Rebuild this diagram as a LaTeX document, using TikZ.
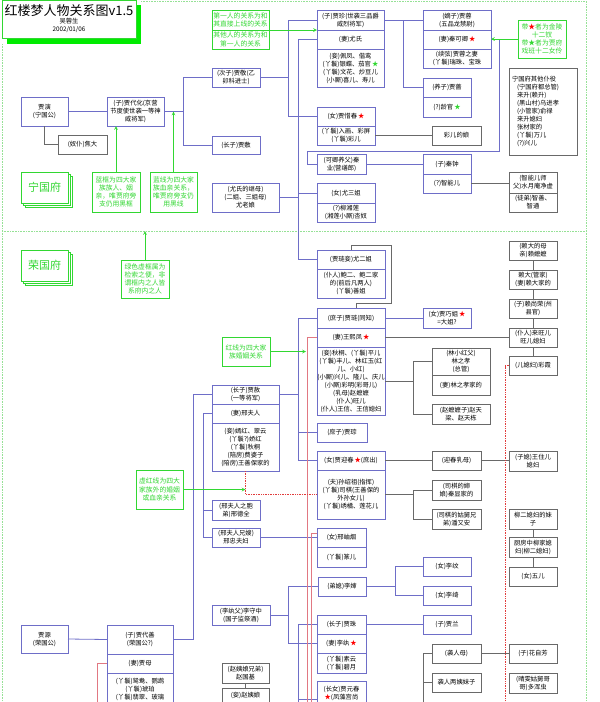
\documentclass[tikz,border=0pt]{standalone}
\usepackage{fontspec}
\setmainfont{Noto Sans CJK SC}
\usetikzlibrary{positioning, arrows, shadows}

\definecolor{kinblue}{RGB}{110,110,200}
\definecolor{servgray}{RGB}{105,105,105}
\definecolor{notegreen}{RGB}{50,215,50}
\definecolor{kinred}{RGB}{225,120,130}
\definecolor{dotred}{RGB}{225,60,60}
\definecolor{edgegreen}{RGB}{150,225,150}
\definecolor{titlegreen}{RGB}{0,235,0}

\newcommand{\rstar}{\textcolor{red}{★}}
\newcommand{\gstar}{\textcolor{notegreen}{★}}

\tikzset{
	>=stealth,
	kin/.style={draw=kinblue, line width=0.8pt, fill=white, align=center,
		inner xsep=0pt, inner ysep=1pt, outer sep=0pt, anchor=north west},
	serv/.style={kin, draw=servgray},
	note/.style={kin, draw=notegreen, text=notegreen, font=\fontsize{6.8}{8.2}\selectfont},
	dims/.style 2 args={text width=#1pt, minimum height=#2pt},
	house/.style={draw=notegreen, line width=0.8pt, fill=white, text=notegreen,
		font=\fontsize{11}{12}\selectfont, minimum width=47pt, minimum height=31pt,
		outer sep=0pt, anchor=north west,
		double copy shadow={shadow xshift=2pt, shadow yshift=-2pt, draw=notegreen, fill=white}},
	kline/.style={draw=kinblue, line width=0.8pt},
	sline/.style={draw=servgray, line width=0.8pt},
	rline/.style={draw=kinred, line width=0.8pt},
	rdot/.style={draw=dotred, densely dotted, line width=0.7pt},
	gline/.style={draw=notegreen, line width=0.7pt, ->},
	frame/.style={draw=edgegreen, densely dotted, line width=0.6pt},
}

\begin{document}
\begin{tikzpicture}[x=1pt, y=-1pt, font=\fontsize{6.3}{8}\selectfont]
	\useasboundingbox (0,0) rectangle (600,702);
	\clip (0,0) rectangle (600,702);

	% frame of the two houses
	\draw[frame] (141,1) -- (586,1) -- (586,702);
	\draw[frame] (2,44) -- (2,702);
	\draw[frame] (2,231) -- (586,231);
	\coordinate (split) at (0,231);

	% title
	\fill[titlegreen] (7,5) rectangle (141,44);
	\node[kin, draw=notegreen, dims={134}{38}] (title) at (2,0)
		{{\fontsize{13}{14}\selectfont 红楼梦人物关系图v1.5}\\吴蓉生\\2002/01/06};

	% Ningguo house
	\node[house] (ning) at (21,172) {宁国府};
	\node[kin, dims={47}{29}] (yan) at (21,97) {贾演\\(宁国公)};
	\node[serv, dims={49}{19}] (jiaoda) at (58,135) {(奴仆)焦大};
	\node[kin, dims={57}{29}] (daihua) at (107,97) {(子)贾代化(京营\\节度使世袭一等神\\威将军)};
	\node[kin, dims={48}{19}] (jing) at (212,68) {(次子)贾敬(乙\\卯科进士)};
	\node[kin, dims={48}{18}] (fu) at (212,136) {(长子)贾敷};
	\node[note, dims={57}{20}] (howto1) at (212,10) {第一人的关系为和\\其直接上线的关系};
	\node[note, dims={57}{19}, below=0pt of howto1] (howto2) {其他人的关系为和\\第一人的关系};

	\node[kin, dims={67}{20}] (zhen) at (317,10) {(子)贾珍(世袭三品爵\\威烈将军)};
	\node[kin, dims={67}{19}, below=0pt of zhen] (youshi) {(妻)尤氏};
	\node[kin, dims={67}{38}, below=0pt of youshi] (zhenqie)
		{(妾)佩凤、偕鸾\\(丫鬟)银蝶、茄官\,\gstar\\(丫鬟)文花、炒豆儿\\(小厮)喜儿、寿儿};
	\node[kin, dims={68}{20}] (rong) at (423,10) {(嫡子)贾蓉\\(五品龙禁尉)};
	\node[kin, dims={68}{19}, below=0pt of rong] (keqing) {(妻)秦可卿\,\rstar};
	\node[kin, dims={68}{19}, below=0pt of keqing] (rongqi) {(续弦)贾蓉之妻\\(丫鬟)瑞珠、宝珠};
	\node[kin, dims={48}{19}] (qiang) at (423,78) {(养子)贾蔷};
	\node[kin, dims={48}{20}, below=0pt of qiang] (lingguan) {(?)龄官\,\gstar};
	\node[note, dims={48}{38}] (stars) at (518,20) {带\rstar 者为金陵\\十二钗\\带\gstar 者为贾府\\戏班十二女伶};
	\node[serv, dims={68}{87}, align=left] (ningserv) at (509,68)
		{\hspace*{3pt}宁国府其他仆役\\\hspace*{8pt}(宁国府都总管)\\\hspace*{8pt}来升(赖升)\\\hspace*{8pt}(黑山村)乌进孝\\\hspace*{8pt}(小管家)俞禄\\\hspace*{8pt}来升媳妇\\\hspace*{8pt}张材家的\\\hspace*{8pt}(丫鬟)万儿\\\hspace*{8pt}(?)兴儿};

	\node[kin, dims={58}{19}] (xichun) at (317,107) {(女)贾惜春\,\rstar};
	\node[kin, dims={58}{19}, below=0pt of xichun] (xichunyh) {(丫鬟)入画、彩屏\\(丫鬟)彩儿};
	\node[serv, dims={49}{19}] (caiermu) at (432,126) {彩儿的娘};
	\node[kin, dims={49}{20}] (qinye) at (317,154) {(可卿养父)秦\\业(营缮郎)};
	\node[kin, dims={48}{20}] (qinzhong) at (423,154) {(子)秦钟};
	\node[kin, dims={48}{19}, below=0pt of qinzhong] (zhineng) {(?)智能儿};
	\node[serv, dims={48}{21}] (jingxu) at (509,172) {(智能儿师\\父)水月庵净虚};
	\node[serv, dims={48}{19}, below=0pt of jingxu] (zhishan) {(徒弟)智善、\\智通};

	\node[note, dims={48}{40}] (bluebox) at (92,172) {蓝框为四大家\\族族人、姻\\亲，唯贾府旁\\支仍用黑框};
	\node[note, dims={47}{40}] (blueline) at (150,172) {蓝线为四大家\\族血亲关系，\\唯贾府旁支仍\\用黑线};
	\node[kin, dims={67}{29}] (youlao) at (212,183) {(尤氏的继母)\\(二姐、三姐母)\\尤老娘};
	\node[kin, dims={58}{20}] (yousan) at (317,183) {(女)尤三姐};
	\node[kin, dims={58}{19}, below=0pt of yousan] (xianglian) {(?)柳湘莲\\(湘莲小厮)杏奴};

	% Rongguo house
	\node[house] (rongfu) at (21,250) {荣国府};
	\node[note, dims={48}{38}] (greenbox) at (121,260) {绿色虚框属为\\检索之便，非\\谓框内之人皆\\系府内之人};
	\node[kin, dims={68}{19}] (youer) at (317,250) {(贾琏妾)尤二姐};
	\node[kin, dims={68}{29}, below=0pt of youer] (baoer) {(仆人)鲍二、鲍二家\\的(前后凡两人)\\(丫鬟)善姐};

	\node[kin, dims={68}{20}] (lian) at (317,308) {(庶子)贾琏(同知)};
	\node[kin, dims={68}{19}, below=0pt of lian] (fengjie) {(妻)王熙凤\,\rstar};
	\node[kin, dims={68}{68}, below=0pt of fengjie] (lianyh)
		{(妾)秋桐、(丫鬟)平儿\\(丫鬟)丰儿、林红玉(红\\儿、小红)\\(小厮)兴儿、隆儿、庆儿\\(小厮)彩明(彩哥儿)\\(乳母)赵嬷嬷\\(仆人)旺儿\\(仆人)王信、王信媳妇};
	\node[kin, dims={48}{20}] (qiaojie) at (423,308) {(女)贾巧姐\,\rstar\\=大姐?};
	\node[serv, dims={48}{19}] (laimu) at (509,241) {(赖大的母\\亲)赖嬷嬷};
	\node[serv, dims={48}{19}] (laida) at (509,270) {赖大(管家)\\(妻)赖大家的};
	\node[serv, dims={48}{19}] (laishang) at (509,299) {(子)赖尚荣(州\\县官)};
	\node[serv, dims={48}{19}] (laiwang) at (509,328) {(仆人)来旺儿\\旺儿媳妇};
	\node[serv, dims={48}{19}] (caixia) at (509,356) {(儿媳妇)彩霞};
	\node[serv, dims={58}{27}] (linzx) at (432,348) {(林小红父)\\林之孝\\(总管)};
	\node[serv, dims={58}{20}, below=0pt of linzx] (linjia) {(妻)林之孝家的};
	\node[serv, dims={58}{20}] (zhaotl) at (432,404) {(赵嬷嬷子)赵天\\梁、赵天栋};
	\node[note, dims={48}{29}] (redline) at (222,337) {红线为四大家\\族婚姻关系};

	\node[kin, dims={67}{19}] (she) at (212,385) {(长子)贾赦\\(一等将军)};
	\node[kin, dims={67}{19}, below=0pt of she] (xing) {(妻)邢夫人};
	\node[kin, dims={67}{48}, below=0pt of xing] (sheqie)
		{(妾)嫣红、翠云\\(丫鬟?)娇红\\(丫鬟)秋桐\\(陪房)费婆子\\(陪房)王善保家的};
	\node[kin, dims={50}{19}] (cong) at (317,423) {(庶子)贾琮};
	\node[kin, dims={68}{19}] (yingchun) at (317,451) {(女)贾迎春\,\rstar(庶出)};
	\node[kin, dims={68}{49}, below=0pt of yingchun] (siqi)
		{(夫)孙绍祖(指挥)\\(丫鬟)司棋(王善保的\\外孙女儿)\\(丫鬟)绣橘、莲花儿};
	\node[serv, dims={49}{19}] (yingnai) at (432,451) {(迎春乳母)};
	\node[serv, dims={48}{20}] (wangzhu) at (509,451) {(子媳)王住儿\\媳妇};
	\node[serv, dims={49}{20}] (qinxian) at (432,480) {(司棋的婶\\娘)秦显家的};
	\node[serv, dims={49}{20}] (panyouan) at (432,509) {(司棋的姑舅兄\\弟)潘又安};
	\node[serv, dims={48}{20}] (liumei) at (509,509) {柳二媳妇的妹\\子};
	\node[serv, dims={48}{20}] (liujia) at (509,537) {厨房中柳家媳\\妇(柳二媳妇)};
	\node[serv, dims={48}{19}] (wuer) at (509,567) {(女)五儿};
	\node[note, dims={47}{39}] (dotnote) at (136,470) {虚红线为四大\\家族外的婚姻\\或血亲关系};

	\node[kin, dims={48}{20}] (xingdq) at (212,500) {(邢夫人之胞\\弟)邢德全};
	\node[kin, dims={48}{19}] (xingzhong) at (212,528) {(邢夫人兄嫂)\\邢忠夫妇};
	\node[kin, dims={49}{19}] (xiuyan) at (317,528) {(女)邢岫烟};
	\node[kin, dims={49}{20}, below=0pt of xiuyan] (zhuaner) {(丫鬟)篆儿};
	\node[kin, dims={48}{19}] (lishen) at (318,577) {(弟媳)李婶};
	\node[kin, dims={48}{19}] (liwen) at (423,557) {(女)李纹};
	\node[kin, dims={48}{19}] (liqi) at (423,586) {(女)李绮};
	\node[kin, dims={58}{20}] (lishou) at (212,605) {(李纨父)李守中\\(国子监祭酒)};
	\node[kin, dims={49}{19}] (zhu) at (317,615) {(长子)贾珠};
	\node[kin, dims={49}{19}, below=0pt of zhu] (liwan) {(妻)李纨\,\rstar};
	\node[kin, dims={49}{20}, below=0pt of liwan] (zhuyh) {(丫鬟)素云\\(丫鬟)碧月};
	\node[kin, dims={48}{19}] (lan) at (423,615) {(子)贾兰};
	\node[kin, dims={49}{24}] (yuanchun) at (317,681) {(长女)贾元春\\\rstar(凤藻宫尚};
	\node[serv, dims={47}{20}] (guoji) at (222,663) {(赵姨娘兄弟)\\赵国基};
	\node[serv, dims={47}{15}] (yiniang) at (222,688) {(妾)赵姨娘};
	\node[serv, dims={49}{19}] (xirenmu) at (432,644) {(袭人母)};
	\node[serv, dims={48}{19}] (huazifang) at (509,644) {(子)花自芳};
	\node[serv, dims={49}{19}] (xirenmei) at (432,673) {袭人两姨妹子};
	\node[serv, dims={48}{20}] (duohunchong) at (509,673) {(晴雯姑舅哥\\哥)多浑虫};

	\node[kin, dims={47}{28}] (yuan) at (21,625) {贾源\\(荣国公)};
	\node[kin, dims={66}{29}] (daishan) at (107,625) {(子)贾代善\\(荣国公?)};
	\node[kin, dims={66}{19}, below=0pt of daishan] (jiamu) {(妻)贾母};
	\node[kin, dims={66}{32}, below=0pt of jiamu] (jiamuyh) {(丫鬟)鸳鸯、鹦鹉\\(丫鬟)琥珀\\(丫鬟)翡翠、玻璃};

	% forks
	\coordinate (ningfork) at (183,0);
	\coordinate (jingfork) at (288,0);
	\coordinate (youfork) at (298,0);
	\coordinate (zhenfork) at (403,0);
	\coordinate (lianfork) at (413,0);
	\coordinate (xingfork) at (203,0);
	\coordinate (rongfork) at (193,0);
	\coordinate (lifork) at (288,0);
	\coordinate (lishenfork) at (395,0);
	\coordinate (qinturn) at (499,151);
	\coordinate (fengred) at (306,0);
	\coordinate (redend) at (307,702);
	\coordinate (redend2) at (311,702);
	\coordinate (jiamuend) at (97,702);
	\coordinate (caixiaend) at (505,702);
	\coordinate (zhengend) at (298,702);
	\coordinate (xirenend) at (423,702);

	% Ningguo lines
	\draw[kline] (yan.east) -- (daihua.west);
	\draw[sline] (yan.south) |- (jiaoda.west);
	\draw[kline] (daihua.east) -- (daihua.east -| ningfork);
	\draw[kline] (jing.west) -- (jing.west -| ningfork) |- (fu.west);
	\draw[kline] (jing.east) -- (jing.east -| jingfork);
	\draw[kline] (zhen.west) -- (zhen.west -| jingfork) |- (xichun.west);
	\draw[kline] (youshi.west) -- (youshi.west -| youfork) |- (youer.west);
	\draw[kline] (youlao.east) -- (youlao.east -| youfork);
	\draw[kline] (yousan.west) -- (yousan.west -| youfork);
	\draw[kline] (zhen.east) -- (rong.west);
	\draw[kline] (zhen.east -| zhenfork) |- (qiang.west);
	\draw[kline] (qinye.west) -- ++(-10,0) |- (qinturn) |- (keqing.east);
	\draw[kline] (qinye.east) -- (qinzhong.west);
	\draw[sline] (zhineng.east) -- (zhineng.east -| jingxu.west);
	\draw[sline] (xichunyh.east) -- (caiermu.west);
	\draw[sline] (youer.north) -- ++(0,-5) -| (391,303) -| ([xshift=5pt]lian.north);

	% Rongguo lines
	\draw[kline] (yuan.east) -- (daishan.west);
	\draw[kline] (daishan.east) -- (daishan.east -| rongfork) |- (she.west);
	\draw[kline] (she.east) -- (she.east -| youfork);
	\draw[kline] (lian.west) -- (lian.west -| youfork) |- (yingchun.west);
	\draw[kline] (cong.west) -- (cong.west -| youfork);
	\draw[kline] (lian.east) -- (qiaojie.west);
	\draw[sline] (fengjie.east) -- (laiwang.west);
	\draw[sline] (laimu) -- (laida) -- (laishang) -- (laiwang) -- (caixia);
	\draw[sline] (lianyh.east) -- (lianyh.east -| lianfork);
	\draw[sline] (linzx.west) -- (linzx.west -| lianfork) |- (zhaotl.west);
	\draw[sline] (yingchun.east) -- (yingnai.west);
	\draw[sline] (yingnai.east) -- (yingnai.east -| wangzhu.west);
	\draw[sline] (siqi.east) -- (siqi.east -| lianfork);
	\draw[sline] (qinxian.west) -- (qinxian.west -| lianfork) |- (panyouan.west);
	\draw[sline] (liumei) -- (liujia) -- (wuer);
	\draw[kline] (xing.west) -- (xing.west -| xingfork) |- (xingzhong.west);
	\draw[kline] (xingdq.west) -- (xingdq.west -| xingfork);
	\draw[kline] (xingzhong.east) -- (xiuyan.west);
	\draw[kline] (lishen.east) -- (lishen.east -| lishenfork);
	\draw[kline] (liwen.west) -- (liwen.west -| lishenfork) |- (liqi.west);
	\draw[kline] (lishou.east) -- (lishou.east -| lifork);
	\draw[kline] (lishen.west) -- (lishen.west -| lifork) |- (liwan.west);
	\draw[kline] (zhu.east) -- (lan.west);
	\draw[kline] (zhu.west) -| (zhengend);
	\draw[kline] ([yshift=-6pt]yuanchun.west) -- ([yshift=-6pt]yuanchun.west -| zhengend);
	\draw[sline] (guoji) -- (yiniang);
	\draw[sline] (xirenmu.east) -- (huazifang.west);
	\draw[sline] (xirenmu.west) -| (xirenend);
	\draw[sline] (xirenmei.west) -- (xirenmei.west -| xirenend);

	% red lines
	\draw[rline] (fengjie.west) -| (redend);
	\draw[rline] ([yshift=4pt]xiuyan.west) -| (redend2);
	\draw[rline] (jiamu.west) -| (jiamuend);
	\draw[rdot] (caixia.west) -| (caixiaend);
	\draw[rdot] (sheqie.south) |- (siqi.west);

	% green pointers
	\draw[gline] (howto1.south west) -- (howto1.south west -| zhen.south west);
	\draw[gline] (stars.west) -- (stars.west -| keqing.east);
	\draw[gline] (bluebox.north) -- (bluebox.north |- daihua.south);
	\draw[gline] (blueline.north) -- (blueline.north |- daihua.east);
	\draw[gline] (greenbox.north) -- (greenbox.north |- split);
	\draw[gline] (redline.east) -- (redline.east -| fengred);
	\draw[gline] (dotnote.east) -- (dotnote.east -| sheqie.south);
\end{tikzpicture}
\end{document}
